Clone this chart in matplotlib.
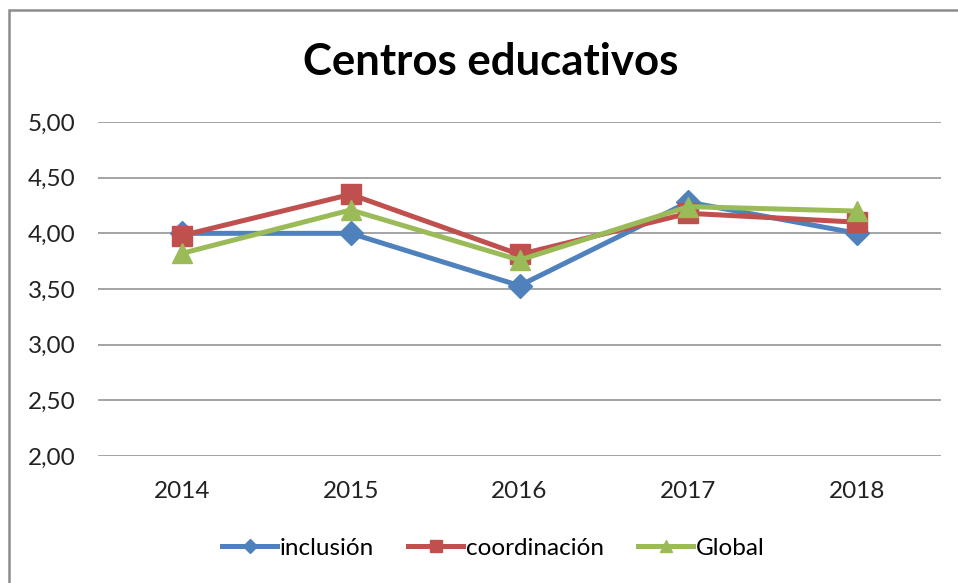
import matplotlib.pyplot as plt
from matplotlib.patches import Rectangle
import matplotlib.ticker as mticker

plt.rcParams['font.family'] = ['Lato', 'DejaVu Sans']

# Data
years = ['2014', '2015', '2016', '2017', '2018']
inclusion = [4.00, 4.00, 3.53, 4.28, 4.00]
coordinacion = [3.98, 4.35, 3.81, 4.18, 4.10]
global_vals = [3.82, 4.21, 3.76, 4.24, 4.20]

fig = plt.figure(figsize=(9.58, 5.83), dpi=100)

# chart border (only top and left visible in the cropped reference)
fig.patches.append(Rectangle((8.5 / 958, -0.1), 1.2, 1.1 - 10 / 583, transform=fig.transFigure,
                             fill=False, edgecolor='#8c8c8c', linewidth=1.8))

ax = fig.add_axes([97.5 / 958, 1 - 456 / 583, (941.5 - 97.5) / 958, (456 - 122) / 583])
x = range(len(years))

ax.plot(x, inclusion, color='#4F81BD', linewidth=3.6, marker='D', markersize=12, label='inclusión', zorder=3)
ax.plot(x, coordinacion, color='#C0504D', linewidth=3.6, marker='s', markersize=15, label='coordinación', zorder=4)
ax.plot(x, global_vals, color='#9BBB59', linewidth=3.6, marker='^', markersize=15, label='Global', zorder=5)

ax.set_xlim(-0.5, len(years) - 0.5)
ax.set_ylim(2, 5)
ax.set_xticks(list(x))
ax.set_xticklabels(years)
ax.set_yticks([2.0, 2.5, 3.0, 3.5, 4.0, 4.5, 5.0])
ax.yaxis.set_major_formatter(mticker.FuncFormatter(lambda v, p: f"{v:.2f}".replace('.', ',')))
ax.tick_params(axis='both', length=0, labelsize=17.5, colors='#222222')
ax.tick_params(axis='y', pad=16)
ax.tick_params(axis='x', pad=18)

ax.grid(True, axis='y', color='#8c8c8c', linewidth=1.1)
ax.set_axisbelow(True)
for s in ax.spines.values():
    s.set_visible(False)

fig.text(491 / 958, 1 - 62 / 583, 'Centros educativos', ha='center', va='center',
         fontsize=31.5, fontweight='bold')

fig.legend(loc='center', bbox_to_anchor=(493.5 / 958, 1 - 548 / 583), ncol=3, frameon=False,
           fontsize=17.5, handlelength=2.26, handletextpad=0.12, columnspacing=1.4, markerscale=0.6,
           borderpad=0, borderaxespad=0)

fig.savefig('out.png', dpi=100)
